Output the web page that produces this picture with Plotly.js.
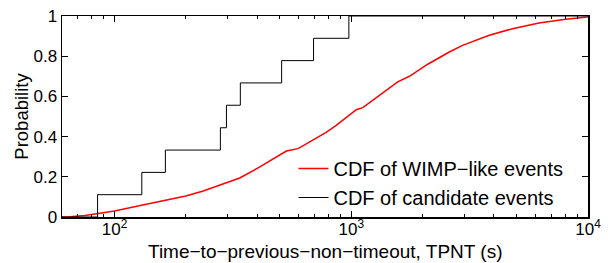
<!DOCTYPE html>
<html>
<head>
<meta charset="utf-8">
<script src="https://cdn.plot.ly/plotly-3.0.1.min.js"></script>
<style>html,body{margin:0;padding:0;background:#fff}#chart{width:608px;height:263px}</style>
</head>
<body>
<div id="chart"></div>
<script>
// WIMP-like events CDF
const wimpTPNT = [60, 65, 75, 84.8, 100, 130, 164, 200, 237, 290, 338, 411, 470, 532, 596, 689, 780, 864, 960, 1050, 1119, 1315, 1571, 1761, 2104, 2595, 2952, 3828, 4800, 6210, 8050, 9930, 10000];
const wimpCDF  = [0, 0.001, 0.008, 0.017, 0.03, 0.058, 0.083, 0.105, 0.129, 0.165, 0.194, 0.249, 0.29, 0.328, 0.340, 0.381, 0.42, 0.456, 0.497, 0.534, 0.544, 0.605, 0.672, 0.700, 0.760, 0.821, 0.854, 0.904, 0.937, 0.965, 0.984, 0.995, 0.997];
// Candidate events CDF (step)
const candTPNT = [60, 84.8, 130.4, 164, 280, 297, 340, 508, 693, 977, 10000];
const candCDF  = [0, 0.111, 0.222, 0.333, 0.444, 0.556, 0.667, 0.778, 0.889, 1.0, 1.0];
// Axis ticks
const xTickVals = [100, 1000, 10000];
const xTickText = ['10<sup>2</sup>', '10<sup>3</sup>', '10<sup>4</sup>'];
const yTickVals = [0, 0.2, 0.4, 0.6, 0.8, 1];
const yTickText = ['0', '0.2', '0.4', '0.6', '0.8', '1'];
const minorVals = [60,70,80,90,200,300,400,500,600,700,800,900,2000,3000,4000,5000,6000,7000,8000,9000];
const xTitle = 'Time\u2212to\u2212previous\u2212non\u2212timeout, TPNT (s)';

const traces = [
  {x: wimpTPNT, y: wimpCDF, type: 'scatter', mode: 'lines', name: 'CDF of WIMP\u2212like events',
   line: {color: '#ff0000', width: 1.5}},
  {x: candTPNT, y: candCDF, type: 'scatter', mode: 'lines', name: 'CDF of candidate events',
   line: {color: '#000000', width: 1, shape: 'hv'}}
];
const fam = 'Liberation Sans, Arial, sans-serif';
const tickFont = {family: fam, size: 17, color: '#000'};
const layout = {
  width: 608, height: 263,
  margin: {l: 62, r: 20, t: 16, b: 46},
  paper_bgcolor: '#fff', plot_bgcolor: '#fff',
  font: {family: fam, size: 17, color: '#000'},
  showlegend: true,
  legend: {x: 0.44, y: 0.0, xanchor: 'left', yanchor: 'bottom', bgcolor: 'rgba(255,255,255,0)',
           font: {family: fam, size: 20, color: '#000'}, tracegroupgap: 0},
  xaxis: {type: 'log', range: [Math.log10(60), 4], tickvals: xTickVals, ticktext: xTickText,
          ticks: 'inside', ticklen: 6, tickwidth: 1, tickcolor: '#000', ticklabelstandoff: -4,
          showline: true, linecolor: '#000', linewidth: 1.5, mirror: 'ticks',
          showgrid: false, zeroline: false, tickfont: tickFont,
          minor: {tickvals: minorVals, ticks: 'inside', ticklen: 3, tickcolor: '#000', showgrid: false}},
  yaxis: {range: [0, 1], tickvals: yTickVals, ticktext: yTickText,
          ticks: 'inside', ticklen: 6, tickwidth: 1, tickcolor: '#000',
          showline: true, linecolor: '#000', linewidth: 1.5, mirror: 'ticks',
          showgrid: false, zeroline: false, tickfont: tickFont,
          title: {text: 'Probability', font: {family: fam, size: 18.5, color: '#000'}, standoff: 0}},
  annotations: [
    {text: xTitle, xref: 'paper', yref: 'paper', x: 0.5, y: -0.228, xanchor: 'center', yanchor: 'bottom',
     showarrow: false, font: {family: fam, size: 19, color: '#000'}, borderpad: 0}
  ]
};
Plotly.newPlot('chart', traces, layout, {displayModeBar: false, staticPlot: true});
</script>
</body>
</html>
